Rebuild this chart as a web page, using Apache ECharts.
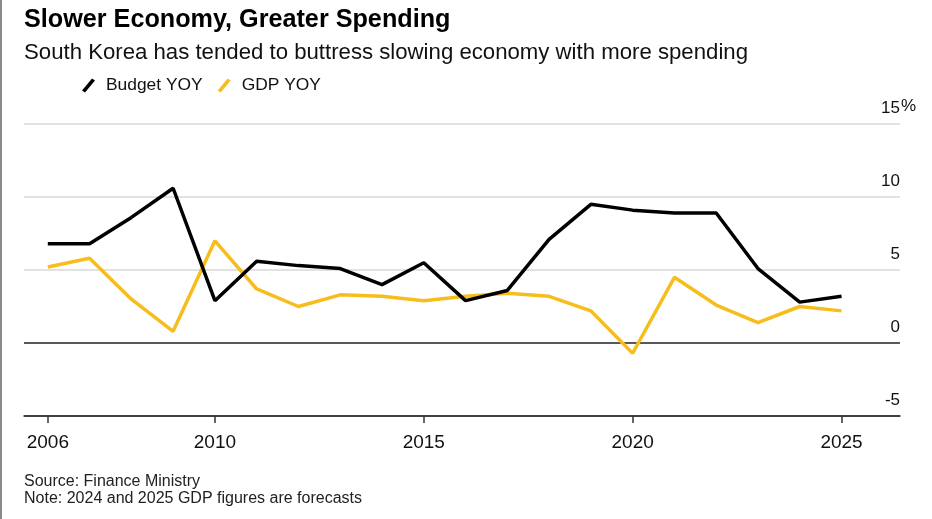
<!DOCTYPE html>
<html>
<head>
<meta charset="utf-8">
<script src="https://cdn.jsdelivr.net/npm/echarts@6/dist/echarts.min.js"></script>
<style>
html,body{margin:0;padding:0;background:#fff;}
#chart{width:932px;height:519px;}
</style>
</head>
<body>
<div id="chart"></div>
<script>
var years = [2006,2007,2008,2009,2010,2011,2012,2013,2014,2015,2016,2017,2018,2019,2020,2021,2022,2023,2024,2025];
var budgetYoy = [6.8,6.8,8.6,10.6,2.9,5.6,5.3,5.1,4.0,5.5,2.9,3.6,7.1,9.5,9.1,8.9,8.9,5.1,2.8,3.2];
var gdpYoy = [5.2,5.8,3.0,0.8,7.0,3.7,2.5,3.3,3.2,2.9,3.2,3.4,3.2,2.2,-0.7,4.5,2.6,1.4,2.5,2.2];
var xTicks = [2006,2010,2015,2020,2025];
var yTicks = [-5,0,5,10,15];

var FONT = '"Liberation Sans", Arial, Helvetica, sans-serif';
var chart = echarts.init(document.getElementById('chart'), null, {renderer:'canvas'});

function pairs(vals){ return years.map(function(y,i){ return [y, vals[i]]; }); }

var option = {
  backgroundColor: '#fff',
  animation: false,
  textStyle: {fontFamily: FONT},
  title: [
    {text: 'Slower Economy, Greater Spending', left: 19, top: 3,
     textStyle: {fontFamily: FONT, fontSize: 25.2, fontWeight: 'bold', color: '#000'}},
    {text: 'South Korea has tended to buttress slowing economy with more spending', left: 19, top: 37,
     textStyle: {fontFamily: FONT, fontSize: 22.2, fontWeight: 'normal', color: '#111'}},
    {text: 'Source: Finance Ministry\nNote: 2024 and 2025 GDP figures are forecasts', left: 19, top: 468,
     textStyle: {fontFamily: FONT, fontSize: 16, fontWeight: 'normal', color: '#222', lineHeight: 17}}
  ],
  legend: {
    left: 77, top: 72,
    itemWidth: 13, itemHeight: 14, itemGap: 15,
    icon: 'path://M0,12 L10,0 L13,2 L3,14 Z',
    textStyle: {fontFamily: FONT, fontSize: 17.4, color: '#111', padding: [0,0,0,6]},
    data: ['Budget YOY', 'GDP YOY']
  },
  grid: {left: 24, right: 32, top: 124, bottom: 103, containLabel: false},
  xAxis: {
    type: 'value', min: 2005.43, max: 2026.4,
    axisLine: {show: true, onZero: false, lineStyle: {color: '#333', width: 1.5}},
    axisTick: {show: true, customValues: xTicks, length: 7, lineStyle: {color: '#333', width: 1.5}},
    axisLabel: {customValues: xTicks, fontSize: 19, color: '#111', margin: 17, fontFamily: FONT,
                formatter: function(v){ return String(v); }},
    splitLine: {show: false}
  },
  yAxis: {
    type: 'value', min: -5, max: 15, interval: 5, position: 'right',
    axisLine: {show: false}, axisTick: {show: false},
    axisLabel: {inside: true, fontSize: 17, color: '#111', fontFamily: FONT,
                verticalAlign: 'bottom', padding: [0,0,7,0], margin: 0, align: 'right',
                formatter: function(v){ return String(v); }},
    splitLine: {show: true, lineStyle: {color: ['#333','#222','#d9d9d9','#d9d9d9','#d9d9d9'], width: 1.5}}
  },
  graphic: [
    {type: 'rect', left: 0, top: 0, shape: {width: 2, height: 519}, style: {fill: '#8a8a8a'}, silent: true},
    {type: 'text', left: 901, top: 98, style: {text: '%', fontSize: 17, fontFamily: FONT, fill: '#111'}}
  ],
  series: [
    {name: 'Budget YOY', type: 'line', data: pairs(budgetYoy), showSymbol: false, symbol: 'none',
     lineStyle: {color: '#000', width: 3.5}, itemStyle: {color: '#000'}, z: 3},
    {name: 'GDP YOY', type: 'line', data: pairs(gdpYoy), showSymbol: false, symbol: 'none',
     lineStyle: {color: '#f7bd1d', width: 3.5}, itemStyle: {color: '#f7bd1d'}, z: 2}
  ]
};
chart.setOption(option);
</script>
</body>
</html>
